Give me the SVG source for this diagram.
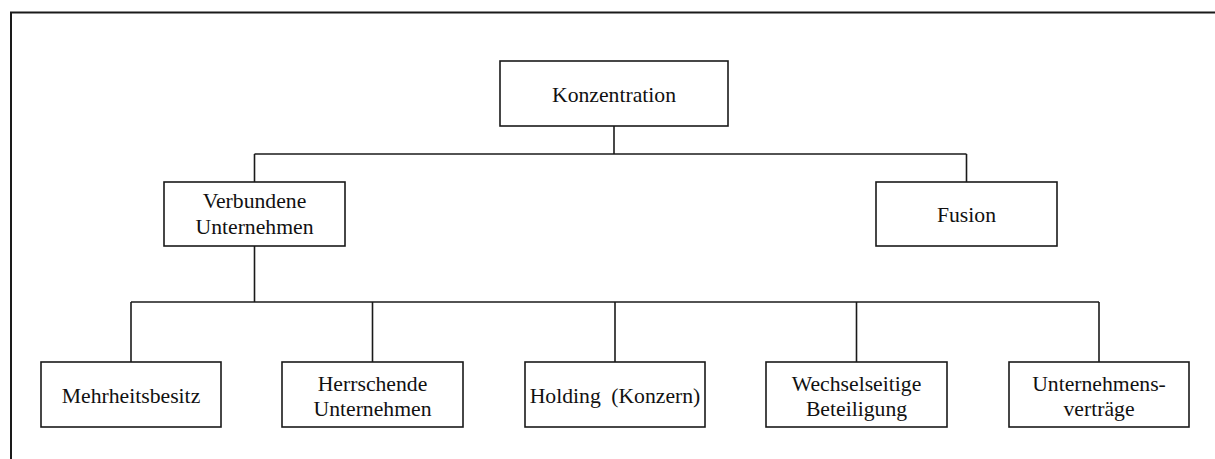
<svg xmlns="http://www.w3.org/2000/svg" width="1215" height="459" viewBox="0 0 1215 459">
  <style>
    .box { fill: #ffffff; stroke: #1a1a1a; stroke-width: 1.6; }
    .wire { fill: none; stroke: #1a1a1a; stroke-width: 1.6; }
    .frame { fill: none; stroke: #1a1a1a; stroke-width: 2; }
    .lbl { font-size: 21.7px; fill: #111111; text-anchor: middle; }
  </style>
  <rect width="1215" height="459" fill="#ffffff"/>
  <!-- page frame: left and top edges only -->
  <path class="frame" d="M11,459 V12.5 H1215"/>

  <g id="connectors">
    <path class="wire" d="M614,126 V154"/>
    <path class="wire" d="M254.5,154 H966.5"/>
    <path class="wire" d="M254.5,154 V182"/>
    <path class="wire" d="M966.5,154 V182"/>
    <path class="wire" d="M254.5,246 V302"/>
    <path class="wire" d="M131,302 H1099"/>
    <path class="wire" d="M131,302 V362"/>
    <path class="wire" d="M372.5,302 V362"/>
    <path class="wire" d="M615,302 V362"/>
    <path class="wire" d="M856.5,302 V362"/>
    <path class="wire" d="M1099,302 V362"/>
  </g>

  <g font-family="'Liberation Serif', 'Times New Roman', 'DejaVu Serif', serif">
    <g id="konzentration">
      <rect class="box" x="500" y="61" width="228" height="65"/>
      <text class="lbl" x="614" y="102">Konzentration</text>
    </g>

    <g id="verbundene-unternehmen">
      <rect class="box" x="164" y="182" width="181" height="64"/>
      <text class="lbl" x="254.5" y="208">Verbundene</text>
      <text class="lbl" x="254.5" y="234">Unternehmen</text>
    </g>

    <g id="fusion">
      <rect class="box" x="876" y="182" width="181" height="64"/>
      <text class="lbl" x="966.5" y="222">Fusion</text>
    </g>

    <g id="mehrheitsbesitz">
      <rect class="box" x="41" y="362" width="180" height="65"/>
      <text class="lbl" x="131" y="403">Mehrheitsbesitz</text>
    </g>

    <g id="herrschende-unternehmen">
      <rect class="box" x="282" y="362" width="181" height="65"/>
      <text class="lbl" x="372.5" y="391">Herrschende</text>
      <text class="lbl" x="372.5" y="416">Unternehmen</text>
    </g>

    <g id="holding">
      <rect class="box" x="525" y="362" width="180" height="65"/>
      <text class="lbl" x="615" y="403" word-spacing="5">Holding (Konzern)</text>
    </g>

    <g id="wechselseitige-beteiligung">
      <rect class="box" x="766" y="362" width="181" height="65"/>
      <text class="lbl" x="856.5" y="391">Wechselseitige</text>
      <text class="lbl" x="856.5" y="416">Beteiligung</text>
    </g>

    <g id="unternehmensvertraege">
      <rect class="box" x="1009" y="362" width="180" height="65"/>
      <text class="lbl" x="1099" y="391">Unternehmens-</text>
      <text class="lbl" x="1099" y="416">verträge</text>
    </g>
  </g>
</svg>
